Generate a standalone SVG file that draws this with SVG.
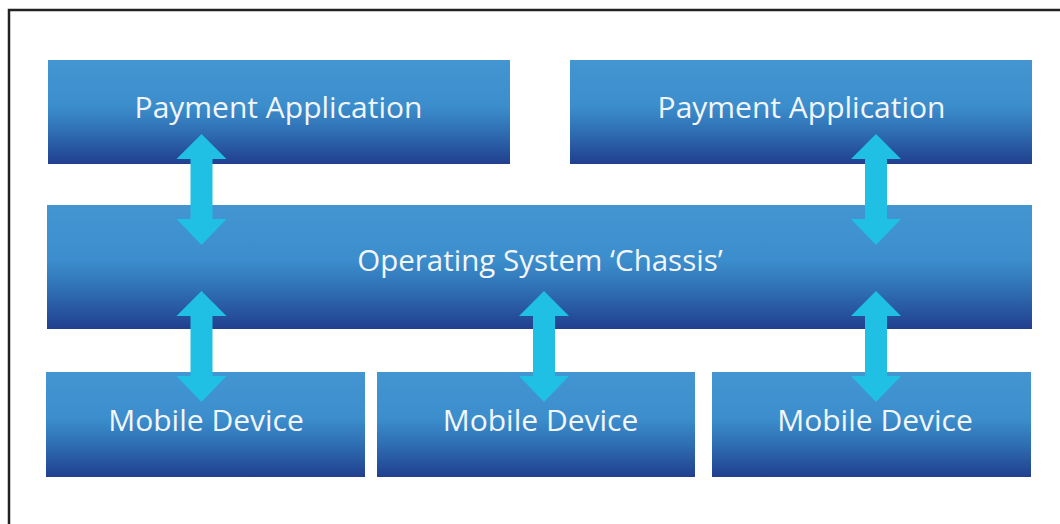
<svg xmlns="http://www.w3.org/2000/svg" width="1060" height="524" viewBox="0 0 1060 524">
<defs>
<linearGradient id="g" x1="0" y1="0" x2="0" y2="1">
<stop offset="0" stop-color="#4496d2"/>
<stop offset="0.45" stop-color="#3b8dcc"/>
<stop offset="0.7" stop-color="#2e6db1"/>
<stop offset="1" stop-color="#213f8e"/>
</linearGradient>
<style>
.box{fill:url(#g)}
.t{font-family:"Open Sans","Noto Sans","DejaVu Sans",sans-serif;font-size:30px;fill:#f2f6fb;text-anchor:middle}
.arr{fill:#1fc0e4}
</style>
<path id="a2" d="M0,0 L25,25 L11,25 L11,85 L25,85 L0,111 L-25,85 L-11,85 L-11,25 L-25,25 Z"/>
</defs>
<rect x="0" y="0" width="1060" height="524" fill="#fff"/>
<path d="M9,524 L9,10 L1060,10" fill="none" stroke="#222" stroke-width="2.5"/>
<g id="pa1"><rect class="box" x="48" y="60" width="462" height="104"/><text class="t" x="278.5" y="118">Payment Application</text></g>
<g id="pa2"><rect class="box" x="570" y="60" width="462" height="104"/><text class="t" x="801.5" y="118">Payment Application</text></g>
<g id="os"><rect class="box" x="47" y="205" width="985" height="124"/><text class="t" x="540" y="271" style="font-size:29.5px">Operating System ‘Chassis’</text></g>
<g id="md1"><rect class="box" x="46" y="372" width="319" height="105"/><text class="t" x="206" y="431">Mobile Device</text></g>
<g id="md2"><rect class="box" x="377" y="372" width="318" height="105"/><text class="t" x="540.5" y="431">Mobile Device</text></g>
<g id="md3"><rect class="box" x="712" y="372" width="319" height="105"/><text class="t" x="875" y="431">Mobile Device</text></g>
<g id="connectors" class="arr">
<use href="#a2" x="201.5" y="134"/>
<use href="#a2" x="876" y="134"/>
<use href="#a2" x="201.5" y="291"/>
<use href="#a2" x="544" y="291"/>
<use href="#a2" x="876" y="291"/>
</g>
</svg>
